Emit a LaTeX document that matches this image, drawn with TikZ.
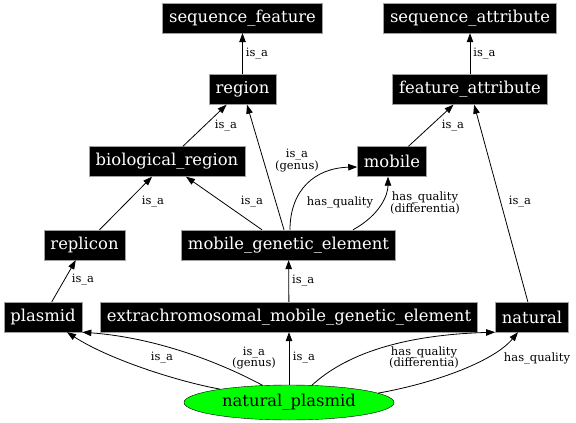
\documentclass[tikz,border=0pt]{standalone}
\usepackage{fontspec}
\setmainfont{DejaVu Serif}
\usepackage{tikz}
\usetikzlibrary{arrows.meta,calc,positioning,shapes.geometric}
\definecolor{kutuKenar}{HTML}{A0A0A0}
\definecolor{yesilDolgu}{HTML}{00FF00}
\newcommand{\terimFont}{\fontsize{16.4}{18}\selectfont}
\newcommand{\etiketFont}{\fontsize{11.5}{11.5}\selectfont}

\begin{document}
\begin{tikzpicture}[x=1pt, y=-1pt,
  terim/.style={draw=kutuKenar, fill=black, text=white, font=\terimFont, minimum height=30, inner xsep=6.5pt},
  iliski/.style={-{Triangle[length=9pt,width=6.5pt]}, line width=0.8pt},
  etiket/.style={font=\etiketFont, align=center, inner sep=1pt}]
\useasboundingbox (0,0) rectangle (576,423);
\node[terim] (seqf) at (242.5,18) {sequence\_feature};
\node[terim] (seqa) at (470,18) {sequence\_attribute};
\node[terim] (reg) at (242.5,89.5) {region};
\node[terim] (fatt) at (470,89.5) {feature\_attribute};
\node[terim] (bio) at (167,161.5) {biological\_region};
\node[terim] (mob) at (392,161.5) {mobile};
\node[terim] (rep) at (84.5,245) {replicon};
\node[terim] (mge) at (288.5,245) {mobile\_genetic\_element};
\node[terim] (pla) at (43,317) {plasmid};
\node[terim] (emge) at (289,317) {extrachromosomal\_mobile\_genetic\_element};
\node[terim] (nat) at (532,317) {natural};
\node[draw=black, fill=yesilDolgu, ellipse, minimum width=210, minimum height=35, font=\terimFont, inner sep=0pt] (np) at (289,402.5) {natural\_plasmid};
% ust katman
\draw[iliski] (reg) -- (seqf) node[etiket, midway, right, xshift=2] {is\_a};
\draw[iliski] (fatt) -- (seqa) node[etiket, midway, right, xshift=2] {is\_a};
\draw[iliski] (bio) -- (reg) node[etiket] at (226,126) {is\_a};
\draw[iliski] (mob) -- (fatt) node[etiket] at (453,126) {is\_a};
% orta katman
\draw[iliski] (rep) -- (bio) node[etiket] at (153,202) {is\_a};
\draw[iliski] ([xshift=-26.5]mge.north) -- ([xshift=19]bio.south) node[etiket] at (252,202) {is\_a};
\draw[iliski] ([xshift=-4.5]mge.north) -- ([xshift=4.5]reg.south) node[etiket] at (297,160.5) {is\_a\\(genus)};
\draw[iliski] ([xshift=1.5]mge.north) .. controls (290,190) and (315,168) .. ([yshift=-5.5]mob.west) node[etiket] at (340,202) {has\_quality};
\draw[iliski] ([xshift=64.5]mge.north) .. controls (380,215) and (388,195) .. ([xshift=-4]mob.south) node[etiket] at (425,203) {has\_quality\\(differentia)};
\draw[iliski] (nat) -- (fatt) node[etiket] at (520,202) {is\_a};
\draw[iliski] (pla) -- (rep) node[etiket] at (83,280) {is\_a};
\draw[iliski] (emge) -- (mge) node[etiket, midway, right, xshift=2] {is\_a};
% alt katman
\draw[iliski] (np.169) .. controls (180,382) and (110,360) .. ([xshift=24]pla.south) node[etiket] at (162,358) {is\_a};
\draw[iliski] (np.147) .. controls (225,365) and (160,338) .. (pla.south east) node[etiket] at (254,358) {is\_a\\(genus)};
\draw[iliski] (np) -- (emge) node[etiket] at (304,358) {is\_a};
\draw[iliski] (np.37) .. controls (345,355) and (400,335) .. (nat.south west) node[etiket] at (424,357.5) {has\_quality\\(differentia)};
\draw[iliski] (np.6) .. controls (440,382) and (495,360) .. ([xshift=-14]nat.south) node[etiket] at (537,358) {has\_quality};
\end{tikzpicture}
\end{document}
